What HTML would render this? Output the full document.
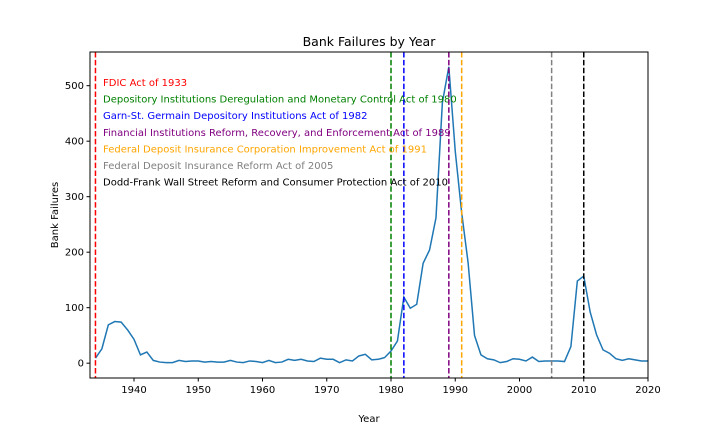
<!DOCTYPE html>
<html><head><meta charset="utf-8"><style>
body{margin:0;background:#fff;}
svg{font-family:"DejaVu Sans","Liberation Sans",sans-serif;display:block}
</style></head><body>
<svg id="chart" width="720" height="432" xmlns="http://www.w3.org/2000/svg">
<rect width="720" height="432" fill="#fff"/>
<g id="plot"></g>
</svg>
<script>
const years = [];
for (let y = 1934; y <= 2020; y++) years.push(y);
const failures = [9,26,69,75,74,60,43,15,20,5,2,1,1,5,3,4,4,2,3,2,2,5,2,1,4,3,1,5,1,2,7,5,7,4,3,9,7,7,1,6,4,13,16,6,7,10,22,40,119,99,106,180,204,262,470,534,382,271,181,50,15,8,6,1,3,8,7,4,11,3,4,4,4,3,30,148,157,92,51,24,18,8,5,8,6,4,4];
const actYears = [1934,1980,1982,1989,1991,2005,2010];
const actNames = ["FDIC Act of 1933","Depository Institutions Deregulation and Monetary Control Act of 1980","Garn-St. Germain Depository Institutions Act of 1982","Financial Institutions Reform, Recovery, and Enforcement Act of 1989","Federal Deposit Insurance Corporation Improvement Act of 1991","Federal Deposit Insurance Reform Act of 2005","Dodd-Frank Wall Street Reform and Consumer Protection Act of 2010"];
const actColors = ["red","green","blue","purple","orange","gray","black"];
const xTicks = [1940,1950,1960,1970,1980,1990,2000,2010,2020];
const yTicks = [0,100,200,300,400,500];

const L=90,R=648,T=52,B=378;
const xMin=1933.15,xMax=2020,yMin=-26.7,yMax=560.7;
const X=v=>L+(v-xMin)/(xMax-xMin)*(R-L);
const Y=v=>B-(v-yMin)/(yMax-yMin)*(B-T);
const NS="http://www.w3.org/2000/svg";
const g=document.getElementById('plot');
function mk(tag,attrs,parent){const e=document.createElementNS(NS,tag);for(const k in attrs)e.setAttribute(k,attrs[k]);(parent||g).appendChild(e);return e;}

const title=mk('text',{x:(L+R)/2,y:46,'text-anchor':'middle','font-size':12.5});
title.textContent='Bank Failures by Year';



// line
let d=years.map((y,i)=>(i?'L':'M')+X(y).toFixed(2)+' '+Y(failures[i]).toFixed(2)).join(' ');
const line=mk('path',{d:d,fill:'none',stroke:'#1f77b4','stroke-width':1.5});



// vlines
actYears.forEach((y,i)=>{
  const l=mk('line',{x1:X(y),x2:X(y),y1:T,y2:B,stroke:actColors[i],'stroke-width':1.5,'stroke-dasharray':'5.5 2.4'});
  
  
  const t=mk('text',{x:103,y:86+i*16.6,fill:actColors[i],'font-size':10});
  t.textContent=actNames[i];
  
  
});

const frame=mk('rect',{x:L,y:T,width:R-L,height:B-T,fill:'none',stroke:'#000','stroke-width':1});



xTicks.forEach(v=>{
  const tk=mk('line',{x1:X(v),x2:X(v),y1:B,y2:B+3.5,stroke:'#000'});
  
  
  const t=mk('text',{x:X(v),y:B+15,'text-anchor':'middle','font-size':10});
  t.textContent=v;
  
  
});
yTicks.forEach(v=>{
  const tk=mk('line',{x1:L-3.5,x2:L,y1:Y(v),y2:Y(v),stroke:'#000'});
  
  
  const t=mk('text',{x:L-6,y:Y(v)+3.5,'text-anchor':'end','font-size':10});
  t.textContent=v;
  
  
});
const xt=mk('text',{x:(L+R)/2,y:422,'text-anchor':'middle','font-size':10});
xt.textContent='Year';


const yt=mk('text',{x:0,y:0,'text-anchor':'middle','font-size':10,transform:'translate(58,'+((T+B)/2)+') rotate(-90)'});
yt.textContent='Bank Failures';


</script>
</body></html>
